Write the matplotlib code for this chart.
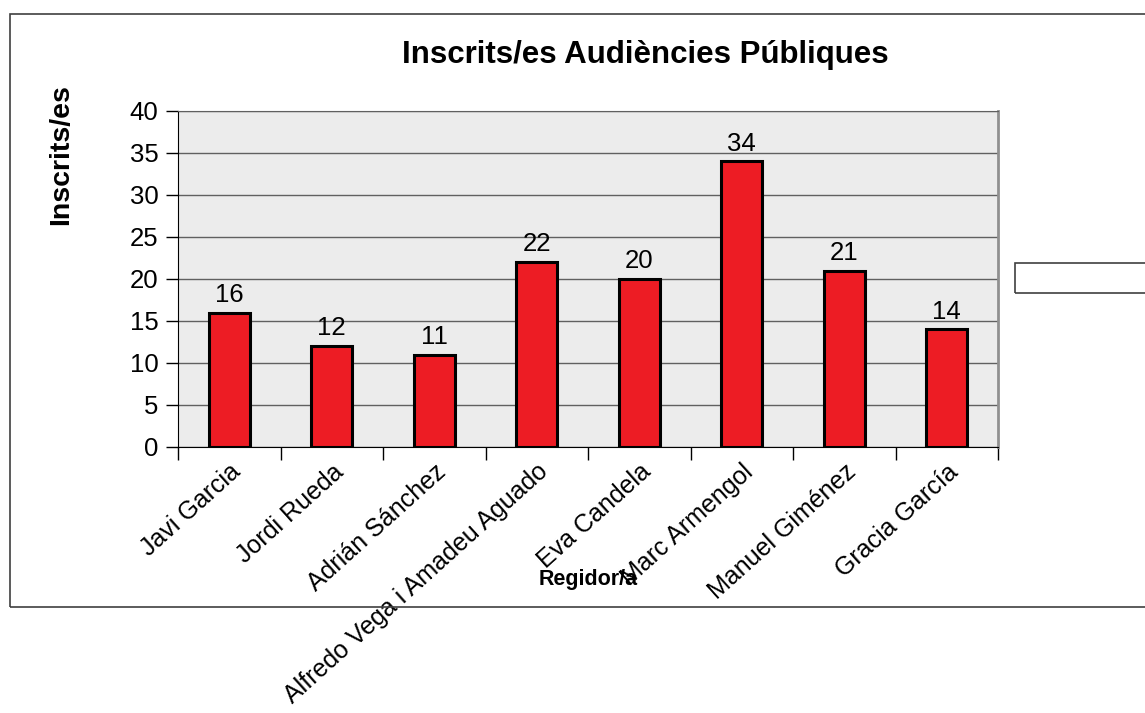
import matplotlib.pyplot as plt
from matplotlib.patches import Rectangle

plt.rcParams['font.family'] = ['Liberation Sans', 'DejaVu Sans']

noms = ['Javi Garcia', 'Jordi Rueda', 'Adrián Sánchez', 'Alfredo Vega i Amadeu Aguado',
        'Eva Candela', 'Marc Armengol', 'Manuel Giménez', 'Gracia García']
inscrits = [16, 12, 11, 22, 20, 34, 21, 14]
yticks = [0, 5, 10, 15, 20, 25, 30, 35, 40]

W, H = 1145, 713
fig = plt.figure(figsize=(W / 100, H / 100), dpi=100)
ax = fig.add_axes([178 / W, 1 - 447 / H, 820 / W, 336 / H])
ax.set_facecolor('#ececec')

x = list(range(len(noms)))
ax.bar(x, inscrits, width=0.4, color='#ed1c24', edgecolor='black', linewidth=2.2, zorder=3)
for xi, v in zip(x, inscrits):
    ax.text(xi, v + 0.7, str(v), ha='center', va='bottom', fontsize=18.5)

ax.set_xlim(-0.5, len(noms) - 0.5)
ax.set_ylim(0, 40)
ax.set_yticks(yticks)
ax.tick_params(axis='y', labelsize=18.5, length=9, width=1, direction='out', pad=5)
ax.yaxis.grid(True, color='#606060', linewidth=1, zorder=1)

# ticks between categories, labels centred on bars
ax.set_xticks([i + 0.5 for i in range(-1, len(noms))], minor=False)
ax.set_xticklabels([])
ax.tick_params(axis='x', which='major', length=9, width=1, direction='out')
ax.set_xticks(x, minor=True)
ax.set_xticklabels(noms, minor=True, rotation=42, ha='right', rotation_mode='anchor', fontsize=18)
ax.tick_params(axis='x', which='minor', length=0, pad=9)

ax.spines['left'].set_color('black')
ax.spines['bottom'].set_color('black')
ax.spines['top'].set_color('#606060')
ax.spines['right'].set_color('#909090')
ax.spines['right'].set_linewidth(2)

fig.text(645 / W, 1 - 55 / H, 'Inscrits/es Audiències Públiques', ha='center', va='center',
         fontsize=22.5, fontweight='bold')
fig.text(61 / W, 1 - 155 / H, 'Inscrits/es', ha='center', va='center', rotation=90,
         fontsize=20.5, fontweight='bold')
fig.text(588 / W, 1 - 580 / H, 'Regidor/a', ha='center', va='center',
         fontsize=15.5, fontweight='bold')

# outer chart frame and empty legend box
fig.patches.append(Rectangle((10 / W, 1 - 607 / H), 1150 / W, 593 / H, transform=fig.transFigure,
                             fill=False, edgecolor='#404040', linewidth=1.2))
fig.patches.append(Rectangle((1015 / W, 1 - 293 / H), 140 / W, 30 / H, transform=fig.transFigure,
                             fill=False, edgecolor='#404040', linewidth=1.2))

fig.savefig('out.png', dpi=100)
